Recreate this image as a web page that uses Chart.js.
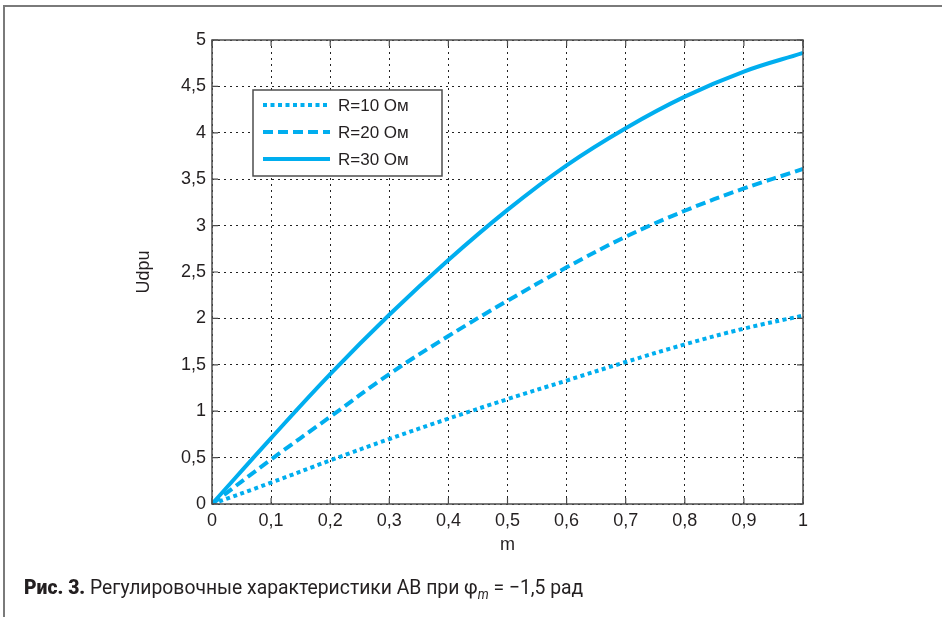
<!DOCTYPE html>
<html>
<head>
<meta charset="utf-8">
<script src="https://cdn.jsdelivr.net/npm/chart.js@4.4.1/dist/chart.umd.min.js"></script>
<style>
  html, body { margin: 0; padding: 0; background: #fff; }
  #wrap { position: relative; width: 942px; height: 617px; overflow: hidden; }
  #cadre { position: absolute; left: 3px; top: 5px; width: 945px; height: 620px;
           border-top: 2px solid #7a7a7a; border-left: 2px solid #7a7a7a; }
  canvas { position: absolute; left: 0; top: 0; }
  #legende { position: absolute; left: 24px; top: 575px; white-space: nowrap;
             font-family: Roboto, "Liberation Sans", sans-serif; font-size: 21px; color: #231f20;
             transform: scaleX(0.92); transform-origin: left top; }
  #legende b { font-weight: 900; }
</style>
</head>
<body>
<div id="wrap">
  <div id="cadre"></div>
  <canvas id="graphique" width="942" height="617"></canvas>
  <div id="legende"><b>Рис. 3.</b> Регулировочные характеристики АВ при φ<sub style="font-size:14px"><i>m</i></sub> = −1,5 рад</div>
</div>
<script>
// Données
const valeursM = [0, 0.1, 0.2, 0.3, 0.4, 0.5, 0.6, 0.7, 0.8, 0.9, 1];
const serieR10 = [0, 0.23, 0.47, 0.70, 0.92, 1.13, 1.33, 1.53, 1.72, 1.89, 2.03];
const serieR20 = [0, 0.48, 0.94, 1.40, 1.81, 2.19, 2.55, 2.88, 3.16, 3.40, 3.61];
const serieR30 = [0, 0.71, 1.40, 2.04, 2.63, 3.17, 3.65, 4.05, 4.39, 4.66, 4.86];
const nomsSeries = ["R=10 Ом", "R=20 Ом", "R=30 Ом"];
const etiquettesX = ["0", "0,1", "0,2", "0,3", "0,4", "0,5", "0,6", "0,7", "0,8", "0,9", "1"];
const etiquettesY = ["0", "0,5", "1", "1,5", "2", "2,5", "3", "3,5", "4", "4,5", "5"];

const bleu = "#00aeef";
const police = "'Liberation Sans', Arial, sans-serif";

function points(serie) {
  return valeursM.map((m, i) => ({ x: m, y: serie[i] }));
}

// Cadre, graduations intérieures et légende (style MATLAB)
const cadrePlugin = {
  id: "cadre",
  afterDraw(chart) {
    const ctx = chart.ctx;
    const a = chart.chartArea;
    const sx = chart.scales.x, sy = chart.scales.y;
    ctx.save();
    ctx.strokeStyle = "#4d4d4d";
    ctx.lineWidth = 1.5;
    ctx.setLineDash([]);
    ctx.strokeRect(a.left, a.top, a.right - a.left, a.bottom - a.top);
    ctx.lineWidth = 1.2;
    ctx.beginPath();
    sx.ticks.forEach(t => {
      const px = sx.getPixelForValue(t.value);
      ctx.moveTo(px, a.bottom); ctx.lineTo(px, a.bottom - 6);
      ctx.moveTo(px, a.top); ctx.lineTo(px, a.top + 6);
    });
    sy.ticks.forEach(t => {
      const py = sy.getPixelForValue(t.value);
      ctx.moveTo(a.left, py); ctx.lineTo(a.left + 6, py);
      ctx.moveTo(a.right, py); ctx.lineTo(a.right - 6, py);
    });
    ctx.stroke();

    // légende
    const lx = a.left + 41, ly = a.top + 50, lw = 189, lh = 86;
    ctx.fillStyle = "#fff";
    ctx.fillRect(lx, ly, lw, lh);
    ctx.strokeStyle = "#4d4d4d";
    ctx.lineWidth = 1.5;
    ctx.strokeRect(lx, ly, lw, lh);
    chart.data.datasets.forEach((ds, i) => {
      const y = ly + 15 + i * 27;
      ctx.strokeStyle = ds.borderColor;
      ctx.lineWidth = ds.borderWidth;
      ctx.setLineDash(ds.borderDash || []);
      ctx.beginPath();
      ctx.moveTo(lx + 10, y);
      ctx.lineTo(lx + 77, y);
      ctx.stroke();
      ctx.setLineDash([]);
      ctx.fillStyle = "#231f20";
      ctx.font = "17px " + police;
      ctx.textBaseline = "middle";
      ctx.fillText(ds.label, lx + 85, y + 1);
    });
    ctx.restore();
  }
};

new Chart(document.getElementById("graphique").getContext("2d"), {
  type: "line",
  data: {
    datasets: [
      { label: nomsSeries[0], data: points(serieR10), borderColor: bleu, borderWidth: 4, borderDash: [4, 3.5] },
      { label: nomsSeries[1], data: points(serieR20), borderColor: bleu, borderWidth: 4, borderDash: [10, 5] },
      { label: nomsSeries[2], data: points(serieR30), borderColor: bleu, borderWidth: 4 }
    ].map(d => Object.assign(d, { pointRadius: 0, fill: false, tension: 0.4, borderCapStyle: "butt" }))
  },
  options: {
    responsive: false,
    animation: false,
    devicePixelRatio: 1,
    layout: { padding: { left: 129, right: 139, top: 40, bottom: 57 } },
    plugins: { legend: { display: false }, tooltip: { enabled: false } },
    scales: {
      x: {
        type: "linear", min: 0, max: 1,
        afterFit: s => { s.height = 56; },
        ticks: {
          stepSize: 0.1, padding: 6, color: "#231f20", maxRotation: 0,
          font: { family: police, size: 18 },
          callback: (v, i) => etiquettesX[i]
        },
        grid: { color: "#222", lineWidth: 1, drawTicks: false },
        border: { display: false, dash: [2, 4] },
        title: { display: true, text: "m", color: "#231f20", font: { family: police, size: 18 }, padding: { top: 2, bottom: 4 } }
      },
      y: {
        type: "linear", min: 0, max: 5,
        afterFit: s => { s.width = 83; },
        ticks: {
          stepSize: 0.5, padding: 6, color: "#231f20",
          font: { family: police, size: 18 },
          callback: (v, i) => etiquettesY[i]
        },
        grid: { color: "#222", lineWidth: 1, drawTicks: false },
        border: { display: false, dash: [2, 4] },
        title: { display: true, text: "Udpu", color: "#231f20", font: { family: police, size: 18 }, padding: 4 }
      }
    }
  },
  plugins: [cadrePlugin]
});
</script>
</body>
</html>
